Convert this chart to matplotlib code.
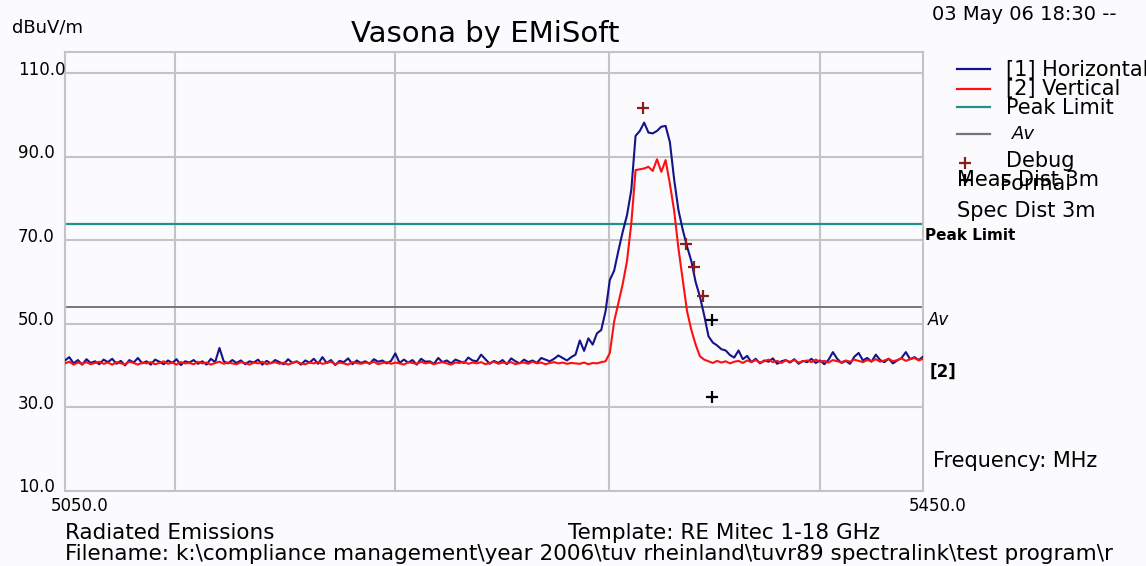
import numpy as np
import matplotlib
matplotlib.use("Agg")
import matplotlib.pyplot as plt

# ---------------- data ----------------
freq = np.arange(5050, 5451, 2)  # MHz sample grid

horizontal = [
    41.2, 42.0, 40.5, 41.3, 40.2, 41.5, 40.6, 41.0, 40.3, 41.4,
    40.8, 41.6, 40.4, 41.1, 40.0, 41.3, 40.7, 41.8, 40.5, 41.0,
    40.2, 41.4, 40.9, 40.3, 41.2, 40.6, 41.5, 40.1, 41.0, 40.7,
    41.3, 40.4, 41.0, 40.2, 41.6, 40.8, 44.2, 41.0, 40.5, 41.3,
    40.6, 41.2, 40.3, 41.0, 40.7, 41.4, 40.2, 41.1, 40.5, 41.3,
    40.8, 40.3, 41.5, 40.6, 41.0, 40.2, 41.2, 40.7, 41.6, 40.4,
    42.0, 40.6, 41.3, 40.1, 41.1, 40.8, 41.7, 40.3, 41.2, 40.6,
    41.0, 40.4, 41.5, 40.9, 41.2, 40.5, 41.1, 42.9, 40.6, 41.4,
    40.7, 41.3, 40.2, 41.6, 40.9, 41.0, 40.4, 41.8, 40.8, 41.2,
    40.5, 41.4, 41.0, 40.6, 41.9, 41.2, 41.0, 42.6, 41.5, 40.4,
    41.1, 40.6, 41.3, 40.3, 41.7, 41.0, 40.5, 41.4, 40.8, 41.2,
    40.6, 41.8, 41.4, 41.0, 41.6, 42.4, 41.8, 41.2, 42.0, 42.6,
    46.0, 43.5, 46.5, 45.0, 47.7, 48.5, 53.0, 60.5, 62.7, 67.5,
    72.0, 76.0, 82.0, 95.0, 96.2, 98.2, 95.8, 95.6, 96.2, 97.2,
    97.4, 93.5, 84.5, 77.2, 72.5, 68.5, 65.0, 60.0, 56.5, 52.0,
    47.0, 45.5, 44.8, 43.9, 43.6, 42.5, 41.9,
    43.6, 41.5, 42.3, 40.8, 41.6, 40.5, 41.2, 40.9, 41.7, 40.4,
    41.0, 41.3, 40.7, 41.5, 40.4, 41.1, 40.8, 41.6, 40.6, 41.2,
    40.3, 41.4, 43.2, 41.6, 40.6, 41.1, 40.4, 42.1, 43.0, 41.2,
    41.8, 40.9, 42.6, 41.3, 40.8, 41.6, 40.5, 41.2, 41.8, 43.2,
    41.5, 42.0, 41.3, 42.1,
]

vertical = [
    40.5, 40.9, 40.2, 40.7, 40.4, 40.8, 40.3, 40.6, 40.9, 40.4,
    40.7, 40.2, 40.8, 40.5, 40.3, 40.9, 40.6, 40.2, 40.7, 40.5,
    40.8, 40.3, 40.6, 41.0, 40.4, 40.7, 40.2, 40.8, 40.5, 40.6,
    40.3, 40.9, 40.5, 40.7, 40.2, 40.6, 40.9, 40.4, 40.7, 40.5,
    40.3, 40.8, 40.6, 40.2, 40.7, 40.5, 40.9, 40.3, 40.6, 40.8,
    40.4, 40.7, 40.2, 40.6, 40.9, 40.5, 40.3, 40.7, 40.5, 40.8,
    40.4, 40.6, 40.9, 40.3, 40.7, 40.5, 40.2, 40.8, 40.6, 40.4,
    40.7, 40.5, 40.9, 40.3, 40.6, 40.8, 40.4, 40.7, 40.5, 40.2,
    40.8, 40.6, 40.4, 40.9, 40.5, 40.7, 40.3, 40.6, 40.8, 40.5,
    40.2, 40.7, 40.6, 40.9, 40.4, 40.7, 40.5, 40.8, 40.3, 40.6,
    40.9, 40.4, 40.7, 40.5, 40.8, 40.3, 40.6, 40.7, 40.4, 40.9,
    40.5, 40.7, 40.3, 40.6, 40.8, 40.5, 40.7, 40.4, 40.6, 40.5,
    40.4, 40.7, 40.3, 40.6, 40.5, 40.8, 41.0, 43.0, 50.5, 55.0,
    59.5, 65.0, 74.0, 86.8, 87.0, 87.2, 87.6, 86.6, 89.4, 86.4,
    89.2, 83.5, 77.0, 68.0, 60.5, 53.0, 48.5, 45.0, 42.2, 41.4,
    41.0, 40.6, 41.1, 40.7, 41.0, 40.5, 40.9,
    41.1, 40.6, 41.2, 40.8, 41.3, 40.7, 41.0, 41.4, 40.8, 41.1,
    40.6, 41.2, 40.9, 41.3, 40.7, 41.0, 41.2, 40.8, 41.4, 40.9,
    41.1, 40.7, 41.3, 41.0, 40.8, 41.2, 40.9, 41.4, 41.1, 40.8,
    41.3, 41.0, 41.5, 40.9, 41.2, 41.6, 41.0, 41.3, 41.7, 41.1,
    41.5, 41.8, 41.2, 41.6,
]

peak_limit = 74.0
av_limit = 54.0

debug_freq = [5319.6, 5339.5, 5343.2, 5347.3]
debug_level = [101.6, 69.1, 63.7, 56.6]
formal_freq = [5351.8, 5351.8]
formal_level = [51.0, 32.4]

y_ticks = [110, 90, 70, 50, 30, 10]
y_labels = ["110.0", "90.0", "70.0", "50.0", "30.0", "10.0"]
x_grid = [5101.3, 5203.8, 5303.6, 5402.0]
x_min, x_max = 5050, 5450
x_labels = ["5050.0", "5450.0"]

legend_labels = ["[1] Horizontal", "[2] Vertical", "Peak Limit", "Av", "Debug", "Formal"]

# ---------------- style ----------------
W, H = 1146, 566
BG = "#fbfafd"
BLUE = "#13138a"
RED = "#ff1010"
TEAL = "#23908a"
GRAYL = "#767676"
GRID = "#c4c4c4"
DEBUGC = "#8b1c1c"
FONT = "DejaVu Sans"
plt.rcParams["font.family"] = [FONT]

fig = plt.figure(figsize=(W / 100, H / 100), dpi=100, facecolor=BG)
left, right, top, bottom = 65, 923, 52, 490.7
ax = fig.add_axes([left / W, 1 - bottom / H, (right - left) / W, (bottom - top) / H])
ax.set_facecolor(BG)
ax.set_xlim(x_min, x_max)
ax.set_ylim(10, 115.1)

ax.set_xticks(x_grid)
ax.set_yticks(y_ticks)
ax.tick_params(length=0, labelbottom=False, labelleft=False)
ax.grid(True, color=GRID, linewidth=1.5)
for s in ax.spines.values():
    s.set_color(GRID)
    s.set_linewidth(1.5)

ax.axhline(peak_limit, color=TEAL, lw=1.6, zorder=2)
ax.axhline(av_limit, color=GRAYL, lw=1.4, zorder=2)
ax.plot(freq, horizontal, color=BLUE, lw=1.5, zorder=3)
ax.plot(freq, vertical, color=RED, lw=1.5, zorder=4)
ax.plot(debug_freq, debug_level, ls="none", marker="+", ms=8, mew=1.6, color=DEBUGC, zorder=5)
ax.plot(formal_freq, formal_level, ls="none", marker="+", ms=8, mew=1.6, color="black", zorder=5)

# y tick labels
ytr = ax.get_yaxis_transform()
for v, lab in zip(y_ticks, y_labels):
    ax.text((18 - left) / (right - left), v + 0.8, lab, transform=ytr, ha="left", va="center",
            fontsize=12, color="black", clip_on=False)
# x labels
ax.text((80 - left) / (right - left), -0.035, x_labels[0], transform=ax.transAxes, ha="center",
        va="center", fontsize=12, clip_on=False)
ax.text((938 - left) / (right - left), -0.035, x_labels[1], transform=ax.transAxes, ha="center",
        va="center", fontsize=12, clip_on=False)

# overlay in pixel coordinates for annotations
ov = fig.add_axes([0, 0, 1, 1], facecolor="none")
ov.set_xlim(0, W)
ov.set_ylim(H, 0)
ov.axis("off")

ov.text(12, 27, "dBuV/m", fontsize=13, ha="left", va="center")
ov.text(485, 34, "Vasona by EMiSoft", fontsize=21, ha="center", va="center")
ov.text(932, 15, "03 May 06 18:30 --", fontsize=14, ha="left", va="center")

# legend
leg_y = [69, 89, 107, 134]
leg_col = [BLUE, RED, TEAL, GRAYL]
for yy, c in zip(leg_y, leg_col):
    ov.plot([957, 990], [yy, yy], color=c, lw=1.6)
ov.text(1006, 70, legend_labels[0], fontsize=15, ha="left", va="center")
ov.text(1006, 89, legend_labels[1], fontsize=15, ha="left", va="center")
ov.text(1006, 108, legend_labels[2], fontsize=15, ha="left", va="center")
ov.text(1012, 134, legend_labels[3], fontsize=13, ha="left", va="center", style="italic")
ov.plot([965], [163], ls="none", marker="+", ms=8, mew=1.6, color=DEBUGC)
ov.text(1006, 161, legend_labels[4], fontsize=15, ha="left", va="center")
ov.plot([965], [180], ls="none", marker="+", ms=8, mew=1.6, color="black")
ov.text(1000, 184, legend_labels[5], fontsize=15, ha="left", va="center")
ov.text(957, 180, "Meas Dist 3m", fontsize=15, ha="left", va="center")
ov.text(957, 211, "Spec Dist 3m", fontsize=15, ha="left", va="center")

ov.text(925, 236, "Peak Limit", fontsize=11, fontweight="bold", ha="left", va="center")
ov.text(928, 320, "Av", fontsize=12, style="italic", ha="left", va="center")
ov.text(930, 372, "[2]", fontsize=12, fontweight="bold", ha="left", va="center")
ov.text(933, 461, "Frequency: MHz", fontsize=15, ha="left", va="center")

ov.text(65, 533, "Radiated Emissions", fontsize=15.5, ha="left", va="center")
ov.text(568, 533, "Template: RE Mitec 1-18 GHz", fontsize=15.5, ha="left", va="center")
ov.text(65, 554, "Filename: k:\\compliance management\\year 2006\\tuv rheinland\\tuvr89 spectralink\\test program\\r",
        fontsize=15.5, ha="left", va="center")

fig.savefig("out.png", dpi=100, facecolor=BG)
